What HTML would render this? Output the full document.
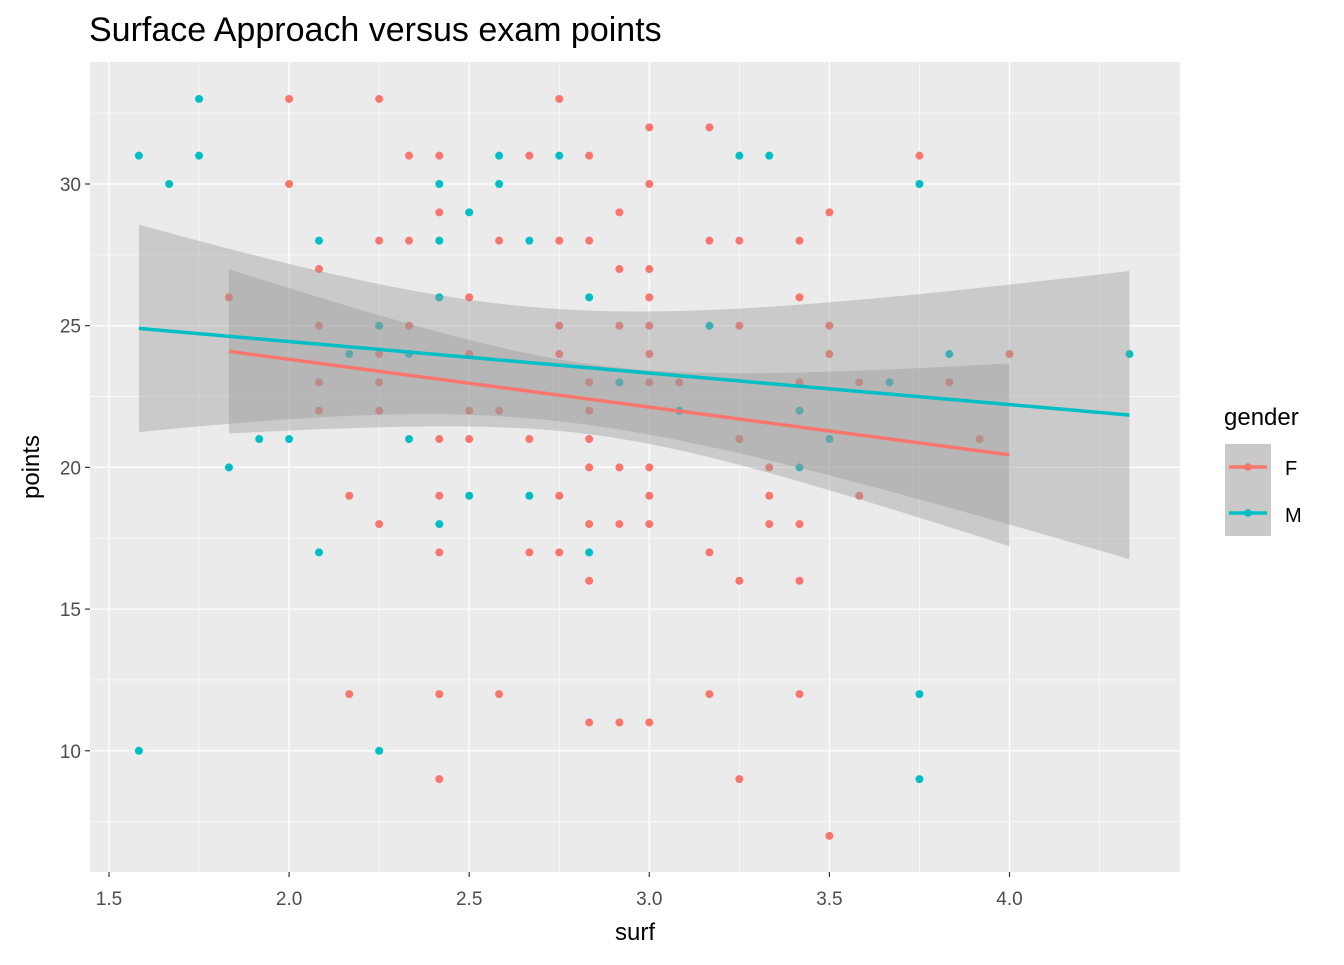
<!DOCTYPE html>
<html><head><meta charset="utf-8"><style>
body{margin:0;background:#fff;}
svg text{font-family:"Liberation Sans",Arial,sans-serif;}
</style></head><body>
<svg id="chart" width="1344" height="960" xmlns="http://www.w3.org/2000/svg">
<rect width="1344" height="960" fill="#fff"/>
<text x="89" y="41" font-size="34" fill="#000">Surface Approach versus exam points</text>
<rect x="90" y="62" width="1090" height="810" fill="#EBEBEB"/>
<g id="grid"></g><g id="points"></g><g id="ribbons"></g><g id="lines"></g><g id="axes"></g>
<text x="635" y="940" font-size="24" text-anchor="middle">surf</text>
<text transform="translate(39,467) rotate(-90)" font-size="24" text-anchor="middle">points</text>
<g>
<text x="1224" y="425" font-size="24">gender</text>
<rect x="1225" y="444" width="46" height="46" fill="#C9C9C9"/>
<rect x="1225" y="490" width="46" height="46" fill="#C9C9C9"/>
<line x1="1229" y1="467" x2="1267" y2="467" stroke="#F8766D" stroke-width="3.5"/>
<circle cx="1248" cy="467" r="3.8" fill="#F8766D"/>
<line x1="1229" y1="513" x2="1267" y2="513" stroke="#00BFC4" stroke-width="3.5"/>
<circle cx="1248" cy="513" r="3.8" fill="#00BFC4"/>
<text x="1285" y="475" font-size="20">F</text>
<text x="1285" y="522" font-size="20">M</text>
</g>
</svg>
<script>
const xTicks=[1.5,2.0,2.5,3.0,3.5,4.0];
const yTicks=[10,15,20,25,30];
const xTickLabels=["1.5","2.0","2.5","3.0","3.5","4.0"];
const yTickLabels=["10","15","20","25","30"];
const fSurf=[1.833,2.0,2.0,2.083,2.083,2.083,2.083,2.167,2.167,2.25,2.25,2.25,2.25,2.25,2.25,2.333,2.333,2.333,2.417,2.417,2.417,2.417,2.417,2.417,2.417,2.5,2.5,2.5,2.5,2.583,2.583,2.583,2.667,2.667,2.667,2.75,2.75,2.75,2.75,2.75,2.75,2.833,2.833,2.833,2.833,2.833,2.833,2.833,2.833,2.833,2.917,2.917,2.917,2.917,2.917,2.917,3.0,3.0,3.0,3.0,3.0,3.0,3.0,3.0,3.0,3.0,3.0,3.083,3.167,3.167,3.167,3.167,3.25,3.25,3.25,3.25,3.25,3.333,3.333,3.333,3.417,3.417,3.417,3.417,3.417,3.417,3.5,3.5,3.5,3.5,3.583,3.583,3.75,3.833,3.917,4.0];
const fPoints=[26,33,30,27,25,23,22,19,12,33,28,24,23,22,18,31,28,25,31,29,21,19,17,12,9,26,24,22,21,28,22,12,31,21,17,33,28,25,24,19,17,31,28,23,22,21,20,18,16,11,29,27,25,20,18,11,32,30,27,26,25,24,23,20,19,18,11,23,32,28,17,12,28,25,21,16,9,20,19,18,28,26,23,18,16,12,29,25,24,7,23,19,31,23,21,24];
const mSurf=[1.583,1.583,1.667,1.75,1.75,1.833,1.917,2.0,2.083,2.083,2.167,2.25,2.25,2.333,2.333,2.417,2.417,2.417,2.417,2.5,2.5,2.583,2.583,2.667,2.667,2.75,2.833,2.833,2.917,3.083,3.167,3.25,3.333,3.417,3.417,3.5,3.667,3.75,3.75,3.75,3.833,4.333];
const mPoints=[31,10,30,33,31,20,21,21,28,17,24,25,10,24,21,30,28,26,18,29,19,31,30,28,19,31,26,17,23,22,25,31,31,22,20,21,23,30,12,9,24,24];
const X=v=>109+(v-1.5)*360.2;
const Y=v=>184-(v-30)*28.34;
const NS="http://www.w3.org/2000/svg";
function mk(tag,attrs,parent){const e=document.createElementNS(NS,tag);for(const k in attrs)e.setAttribute(k,attrs[k]);document.getElementById(parent).appendChild(e);return e;}
[1.75,2.25,2.75,3.25,3.75,4.25].forEach(v=>{const l=mk('line',{x1:X(v),x2:X(v),y1:62,y2:872,stroke:'#fff','stroke-width':0.6},'grid');});
[7.5,12.5,17.5,22.5,27.5,32.5].forEach(v=>{const l=mk('line',{x1:90,x2:1180,y1:Y(v),y2:Y(v),stroke:'#fff','stroke-width':0.6},'grid');});
xTicks.forEach((v,i)=>{const l=mk('line',{x1:X(v),x2:X(v),y1:62,y2:872,stroke:'#fff','stroke-width':1.3},'grid');
 const t=mk('line',{x1:X(v),x2:X(v),y1:872,y2:877,stroke:'#333','stroke-width':1.2},'axes');
 const tx=mk('text',{x:X(v),y:905,'font-size':19,fill:'#4D4D4D','text-anchor':'middle'},'axes');tx.textContent=xTickLabels[i];});
yTicks.forEach((v,i)=>{const l=mk('line',{x1:90,x2:1180,y1:Y(v),y2:Y(v),stroke:'#fff','stroke-width':1.3},'grid');
 const t=mk('line',{x1:85,x2:90,y1:Y(v),y2:Y(v),stroke:'#333','stroke-width':1.2},'axes');
 const tx=mk('text',{x:81,y:Y(v)+7,'font-size':19,fill:'#4D4D4D','text-anchor':'end'},'axes');tx.textContent=yTickLabels[i];});
function pts(xs,ys,col,name){xs.forEach((x,i)=>{const c=mk('circle',{cx:X(x),cy:Y(ys[i]),r:4,fill:col},'points');});}
pts(fSurf,fPoints,'#F8766D','point-f');pts(mSurf,mPoints,'#00BFC4','point-m');
function fit(xs,ys,col,name){const n=xs.length;const mx=xs.reduce((a,b)=>a+b)/n,my=ys.reduce((a,b)=>a+b)/n;
 let sxx=0,sxy=0;xs.forEach((x,i)=>{sxx+=(x-mx)**2;sxy+=(x-mx)*(ys[i]-my);});
 const b=sxy/sxx,a=my-b*mx;let sse=0;xs.forEach((x,i)=>{sse+=(ys[i]-a-b*x)**2;});const s=Math.sqrt(sse/(n-2));const tq=n>60?1.99:2.02;
 const lo=Math.min(...xs),hi=Math.max(...xs);const up=[],dn=[],ln=[];
 for(let k=0;k<=80;k++){const x=lo+(hi-lo)*k/80;const yh=a+b*x;const se=s*Math.sqrt(1/n+(x-mx)**2/sxx);
  up.push(X(x)+','+Y(yh+tq*se));dn.unshift(X(x)+','+Y(yh-tq*se));ln.push(X(x)+','+Y(yh));}
 const r=mk('polygon',{points:up.concat(dn).join(' '),fill:'#999999','fill-opacity':0.4},'ribbons');
 const l=mk('polyline',{points:ln.join(' '),fill:'none',stroke:col,'stroke-width':3.5},'lines');}
fit(fSurf,fPoints,'#F8766D','f');fit(mSurf,mPoints,'#00BFC4','m');
</script>
</body></html>
